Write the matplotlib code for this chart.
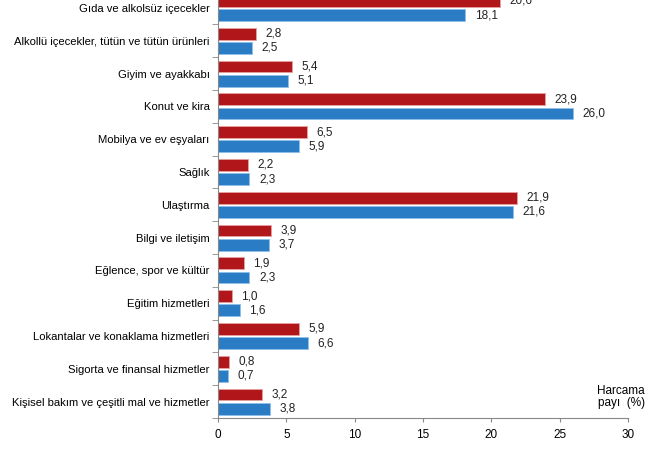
import numpy as np
import matplotlib.pyplot as plt
from matplotlib.ticker import FixedLocator

plt.rcParams["font.family"] = ["Liberation Sans", "DejaVu Sans"]

categories = [
    "Gıda ve alkolsüz içecekler",
    "Alkollü içecekler, tütün ve tütün ürünleri",
    "Giyim ve ayakkabı",
    "Konut ve kira",
    "Mobilya ve ev eşyaları",
    "Sağlık",
    "Ulaştırma",
    "Bilgi ve iletişim",
    "Eğlence, spor ve kültür",
    "Eğitim hizmetleri",
    "Lokantalar ve konaklama hizmetleri",
    "Sigorta ve finansal hizmetler",
    "Kişisel bakım ve çeşitli mal ve hizmetler",
]
red_vals = [20.6, 2.8, 5.4, 23.9, 6.5, 2.2, 21.9, 3.9, 1.9, 1.0, 5.9, 0.8, 3.2]
blue_vals = [18.1, 2.5, 5.1, 26.0, 5.9, 2.3, 21.6, 3.7, 2.3, 1.6, 6.6, 0.7, 3.8]
xticks = [0, 5, 10, 15, 20, 25, 30]

red = "#B0161A"
blue = "#2A7DC4"

fig = plt.figure(figsize=(6.51, 4.5), dpi=100)
ax = fig.add_axes([218 / 651, 32 / 450, 410 / 651, 426.4 / 450])

n = len(categories)
y = np.arange(n)
h = 0.36
off = 0.215
ax.barh(y - off, red_vals, height=h, color=red, edgecolor="#E8A0A0", linewidth=0.6)
ax.barh(y + off, blue_vals, height=h, color=blue, edgecolor="#8FC0EA", linewidth=0.6)

def fmt(v):
    return f"{v:.1f}".replace(".", ",")

for yi, rv, bv in zip(y, red_vals, blue_vals):
    ax.text(rv + 0.7, yi - off, fmt(rv), va="center", ha="left", fontsize=8.5, color="#222222")
    ax.text(bv + 0.7, yi + off, fmt(bv), va="center", ha="left", fontsize=8.5, color="#222222")

ax.set_xlim(0, 30)
ax.set_ylim(n - 0.5, -0.5)
ax.set_xticks(xticks)
ax.set_xticklabels([str(t) for t in xticks], fontsize=8.5)
ax.set_yticks(y)
ax.set_yticklabels(categories, fontsize=8.1)
ax.yaxis.set_minor_locator(FixedLocator(np.arange(-0.5, n, 1.0)))
ax.tick_params(axis="y", which="major", length=0, pad=6)
ax.tick_params(axis="y", which="minor", length=4, color="#888888")
ax.tick_params(axis="x", length=3, color="#888888", pad=5)

for s in ["top", "right"]:
    ax.spines[s].set_visible(False)
for s in ["left", "bottom"]:
    ax.spines[s].set_color("#888888")
    ax.spines[s].set_linewidth(0.8)

fig.text(645 / 651, 1 - 397 / 450, "Harcama\npayı  (%)", ha="right", va="center", fontsize=8.5,
         linespacing=1.1)

fig.savefig("out.png", dpi=100)
